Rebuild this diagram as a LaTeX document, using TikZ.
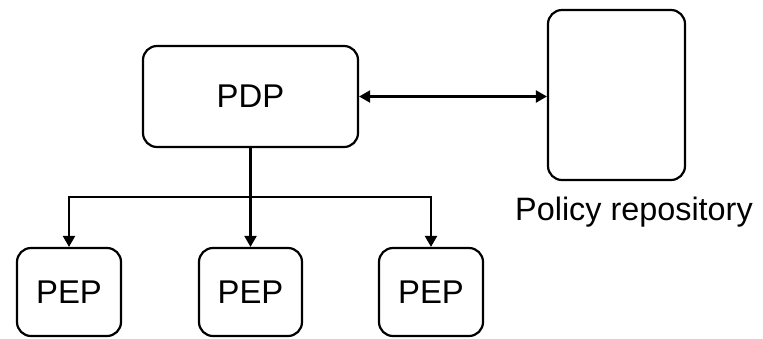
\documentclass[tikz,border=0pt]{standalone}
\usepackage{fontspec}
\setmainfont{Liberation Sans}
\usetikzlibrary{arrows.meta}
\begin{document}
\begin{tikzpicture}[x=1bp,y=-1bp,
  box/.style={draw=black, line width=2.2bp, rounded corners=14bp, inner sep=0pt, font=\fontsize{33}{36}\selectfont},
  conn/.style={draw=black, line width=2.2bp},
  tip/.style={-{Triangle[length=11bp,width=12bp]}}]
\useasboundingbox (0,0) rectangle (763,338);
\node[box, minimum width=215bp, minimum height=101bp] (pdp) at (250.5,96.5) {PDP};
\node[box, minimum width=137bp, minimum height=170bp] (repo) at (616.5,95) {};
\node[font=\fontsize{32.5}{36}\selectfont, anchor=base] (lbl) at (634,220) {Policy repository};
\node[box, minimum width=104bp, minimum height=88bp] (pep1) at (69,292) {PEP};
\node[box, minimum width=103bp, minimum height=88bp] (pep2) at (250.5,292) {PEP};
\node[box, minimum width=104bp, minimum height=88bp] (pep3) at (431,292) {PEP};
\coordinate (j) at (250.5,197);
\draw[conn, {Triangle[length=11bp,width=12bp]}-{Triangle[length=11bp,width=12bp]}] (pdp.east) -- (pdp.east -| repo.west);
\draw[conn] (pdp.south) -- (j);
\draw[conn, tip] (j) -| (pep1.north);
\draw[conn, tip] (j) -- (pep2.north);
\draw[conn, tip] (j) -| (pep3.north);
\end{tikzpicture}
\end{document}
